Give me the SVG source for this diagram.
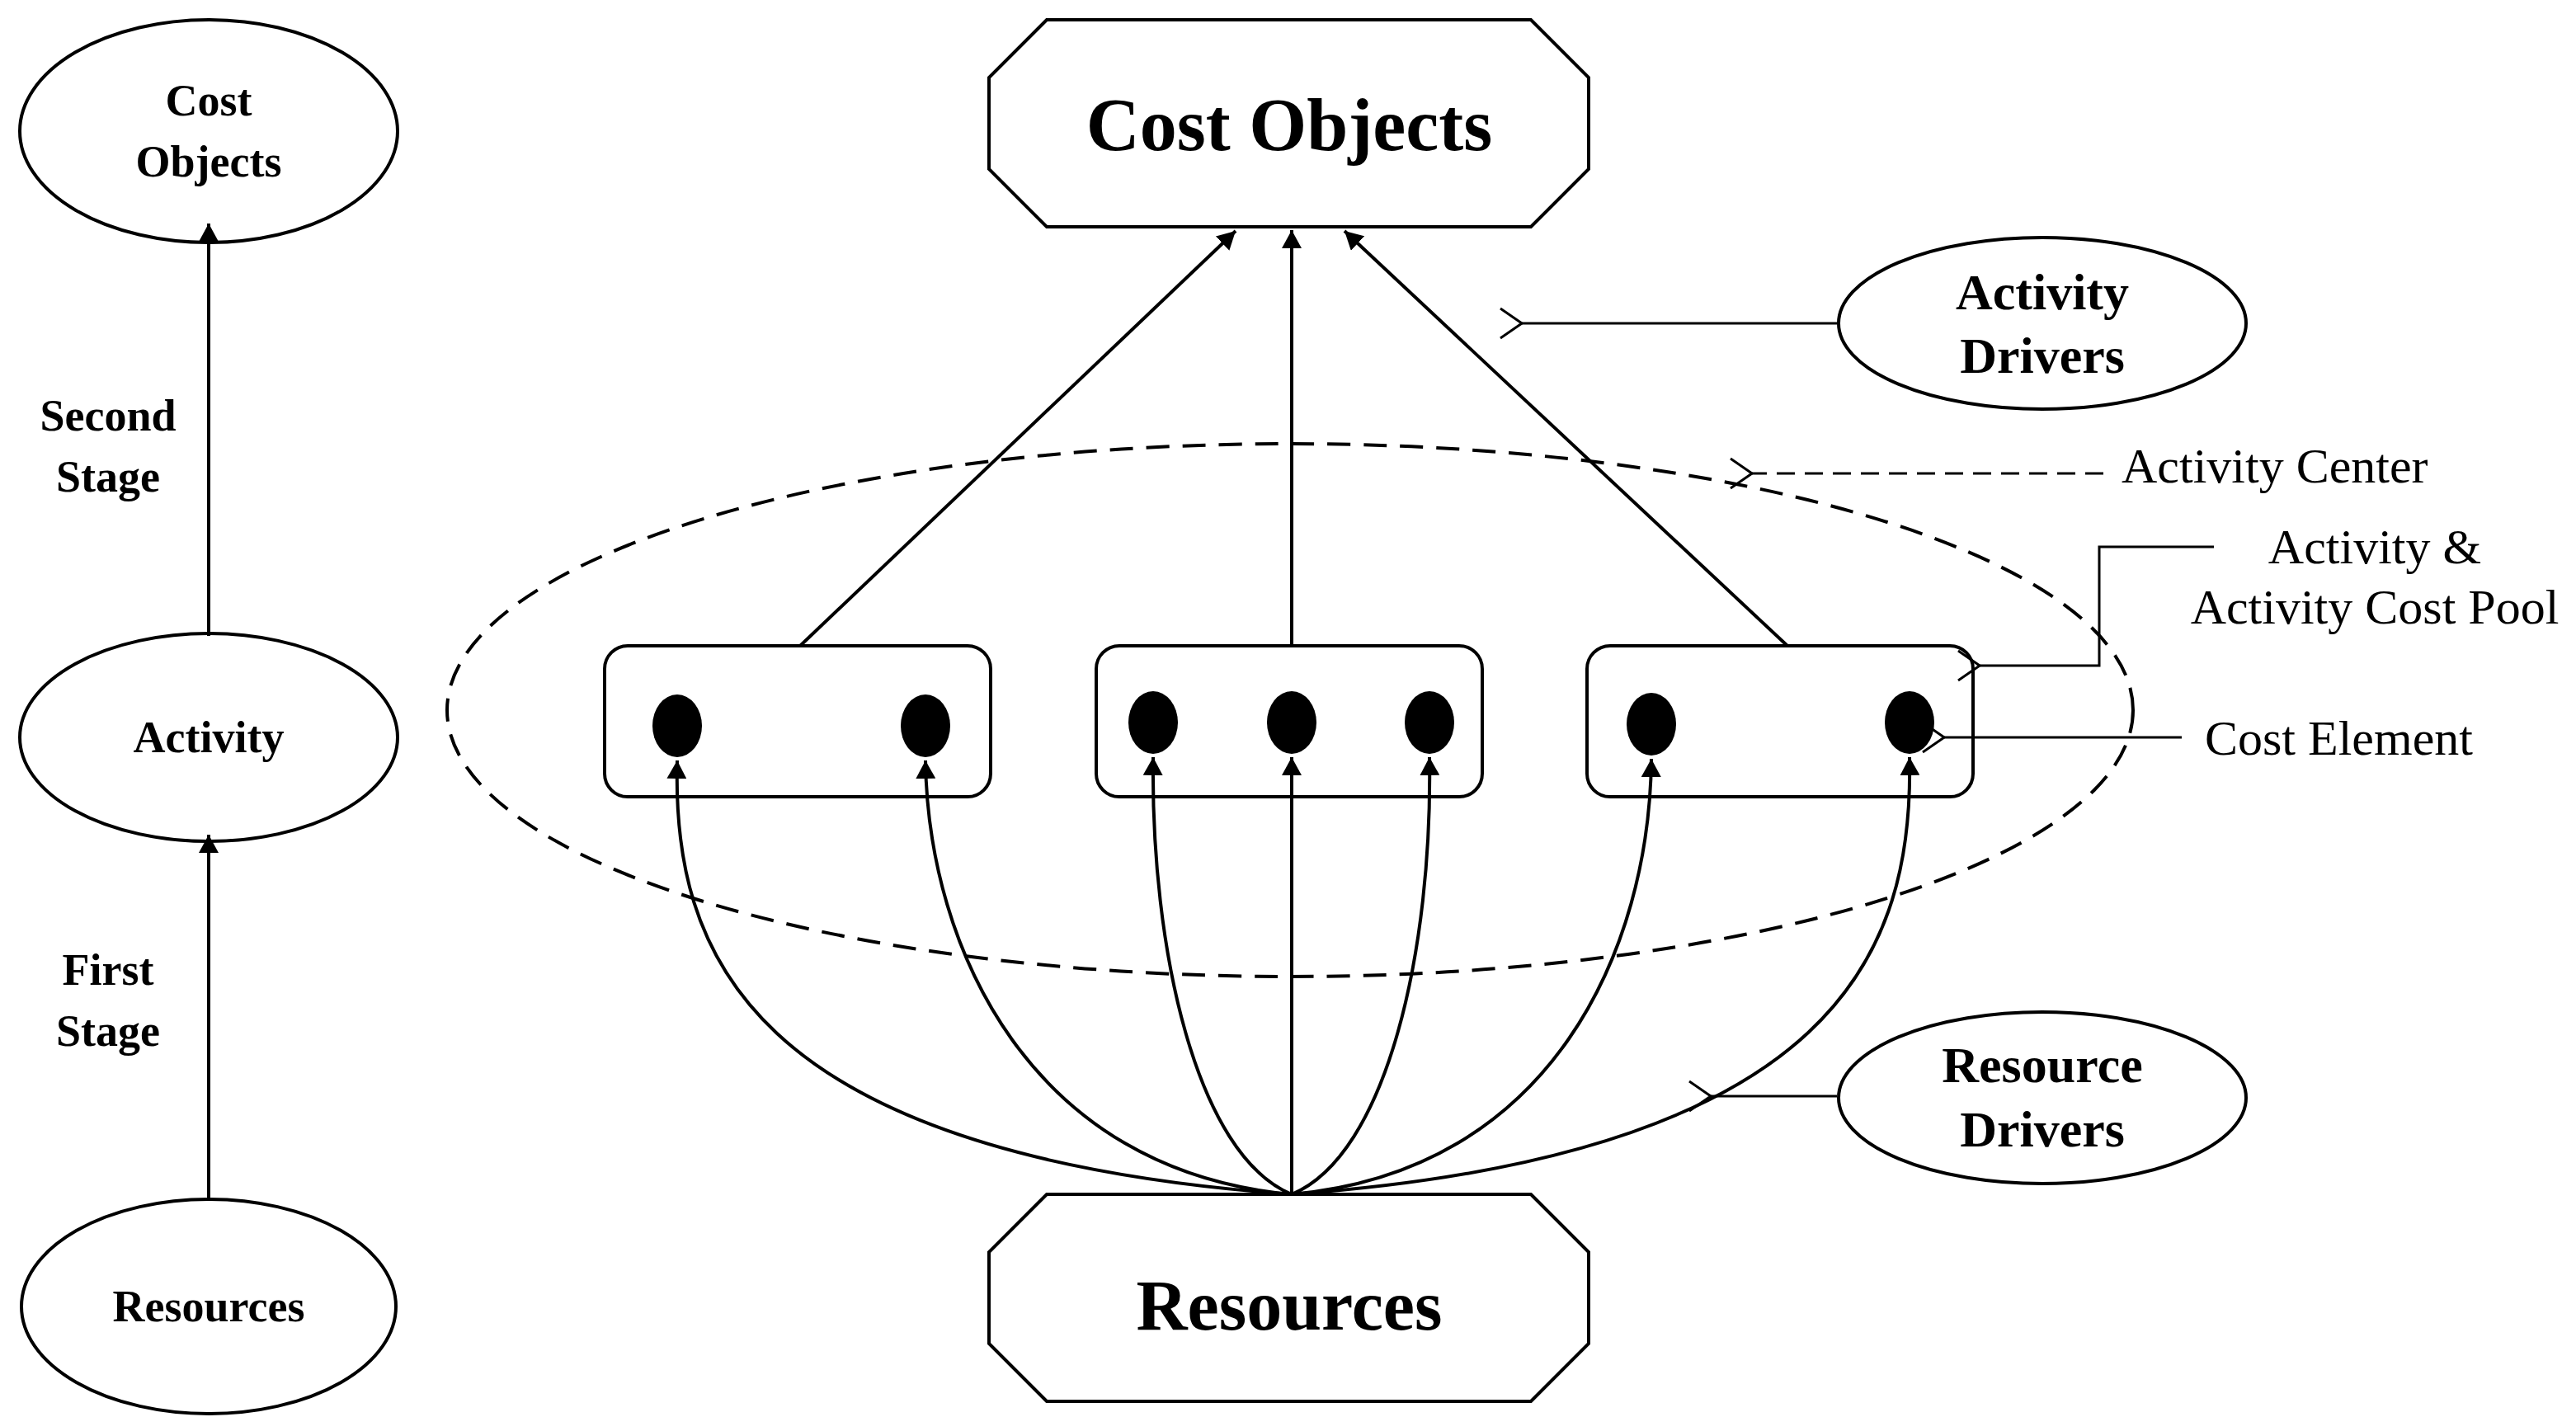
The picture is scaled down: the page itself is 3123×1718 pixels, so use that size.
<svg xmlns="http://www.w3.org/2000/svg" width="3123" height="1718" viewBox="0 0 3123 1718">
<style>
.s{fill:none;stroke:#000;stroke-width:4}
.n{fill:#fff;stroke:#000;stroke-width:4}
.b{font-family:"Liberation Serif",serif;font-weight:bold;text-anchor:middle}
.r{font-family:"Liberation Serif",serif;font-size:60px}
.d{fill:#000}
</style>
<defs>
<marker id="a" markerWidth="12" markerHeight="10" refX="11" refY="5" orient="auto" markerUnits="userSpaceOnUse" viewBox="0 0 12 10"><path d="M0,0 L12,5 L0,10 z" fill="#000"/></marker>
<marker id="f" markerWidth="24" markerHeight="24" refX="22" refY="12" orient="auto" markerUnits="userSpaceOnUse" viewBox="0 0 24 24"><path d="M0,0 L22,12 L0,24 z" fill="#000"/></marker>
<marker id="o" markerWidth="30" markerHeight="40" refX="2" refY="20" orient="auto" markerUnits="userSpaceOnUse" viewBox="0 0 30 40"><path d="M28,2 L2,20 L28,38" fill="none" stroke="#000" stroke-width="3"/></marker>
</defs>
<rect width="3123" height="1718" fill="#fff"/>
<g id="left-cost-objects"><ellipse class="n" cx="253" cy="159" rx="229" ry="135"/><text class="b" x="253" y="140" font-size="54">Cost</text><text class="b" x="253" y="214" font-size="54">Objects</text></g>
<g id="left-activity"><ellipse class="n" cx="253" cy="894" rx="229" ry="126"/><text class="b" x="253" y="912" font-size="54">Activity</text></g>
<g id="left-resources"><ellipse class="n" cx="253" cy="1584" rx="227" ry="130"/><text class="b" x="253" y="1602" font-size="54">Resources</text></g>
<g id="stage-labels"><text class="b" x="131" y="522" font-size="54">Second</text><text class="b" x="131" y="596" font-size="54">Stage</text><text class="b" x="131" y="1194" font-size="54">First</text><text class="b" x="131" y="1268" font-size="54">Stage</text></g>
<g id="activity-center"><ellipse cx="1564" cy="861" rx="1022" ry="323" fill="none" stroke="#000" stroke-width="4" stroke-dasharray="28,16"/></g>
<g id="cost-objects"><polygon class="n" points="1269,24 1856,24 1926,94 1926,205 1856,275 1269,275 1199,205 1199,94"/><text class="b" x="1563" y="182" font-size="90">Cost Objects</text></g>
<g id="resources"><polygon class="n" points="1269,1448 1856,1448 1926,1518 1926,1629 1856,1699 1269,1699 1199,1629 1199,1518"/><text class="b" x="1563" y="1612" font-size="86">Resources</text></g>
<g id="activity-drivers"><ellipse class="n" cx="2476" cy="392" rx="247" ry="104"/><text class="b" x="2476" y="375" font-size="62">Activity</text><text class="b" x="2476" y="452" font-size="62">Drivers</text></g>
<g id="resource-drivers"><ellipse class="n" cx="2476" cy="1331" rx="247" ry="104"/><text class="b" x="2476" y="1312" font-size="62">Resource</text><text class="b" x="2476" y="1390" font-size="62">Drivers</text></g>
<g id="pool1"><rect class="n" x="733" y="783" width="468" height="183" rx="28"/><ellipse class="d" cx="821" cy="880" rx="30" ry="38"/><ellipse class="d" cx="1122" cy="880" rx="30" ry="38"/></g>
<g id="pool2"><rect class="n" x="1329" y="783" width="468" height="183" rx="28"/><ellipse class="d" cx="1398" cy="876" rx="30" ry="38"/><ellipse class="d" cx="1566" cy="876" rx="30" ry="38"/><ellipse class="d" cx="1733" cy="876" rx="30" ry="38"/></g>
<g id="pool3"><rect class="n" x="1924" y="783" width="468" height="183" rx="28"/><ellipse class="d" cx="2002" cy="878" rx="30" ry="38"/><ellipse class="d" cx="2315" cy="876" rx="30" ry="38"/></g>
<g id="labels"><text class="r" x="2572" y="585">Activity Center</text><text class="r" x="2879" y="683" text-anchor="middle">Activity &amp;</text><text class="r" x="2879" y="756" text-anchor="middle">Activity Cost Pool</text><text class="r" x="2673" y="915">Cost Element</text></g>
<g id="connectors">
<line class="s" x1="253" y1="771" x2="253" y2="271" marker-end="url(#f)"/>
<line class="s" x1="253" y1="1454" x2="253" y2="1012" marker-end="url(#f)"/>
<line class="s" x1="970" y1="783" x2="1498" y2="280" marker-end="url(#f)"/>
<line class="s" x1="1566" y1="783" x2="1566" y2="279" marker-end="url(#f)"/>
<line class="s" x1="2167" y1="783" x2="1630" y2="280" marker-end="url(#f)"/>
<path class="s" d="M1566,1448 C900,1400 815,1150 821,922" marker-end="url(#f)"/>
<path class="s" d="M1566,1448 C1250,1420 1125,1150 1122,922" marker-end="url(#f)"/>
<path class="s" d="M1566,1448 C1450,1400 1395,1150 1398,918" marker-end="url(#f)"/>
<line class="s" x1="1566" y1="1448" x2="1566" y2="918" marker-end="url(#f)"/>
<path class="s" d="M1566,1448 C1682,1400 1737,1150 1733,918" marker-end="url(#f)"/>
<path class="s" d="M1566,1448 C1882,1420 2000,1150 2002,920" marker-end="url(#f)"/>
<path class="s" d="M1566,1448 C2232,1400 2320,1150 2315,918" marker-end="url(#f)"/>
<line x1="2227" y1="392" x2="1845" y2="392" stroke="#000" stroke-width="3" marker-end="url(#o)"/>
<line x1="2227" y1="1329" x2="2074" y2="1329" stroke="#000" stroke-width="3" marker-end="url(#o)"/>
<line x1="2550" y1="574" x2="2124" y2="574" stroke="#000" stroke-width="3" stroke-dasharray="22,12" marker-end="url(#o)"/>
<polyline points="2684,663 2545,663 2545,807 2400,807" fill="none" stroke="#000" stroke-width="3" marker-end="url(#o)"/>
<line x1="2645" y1="894" x2="2357" y2="894" stroke="#000" stroke-width="3" marker-end="url(#o)"/>
</g>
</svg>
